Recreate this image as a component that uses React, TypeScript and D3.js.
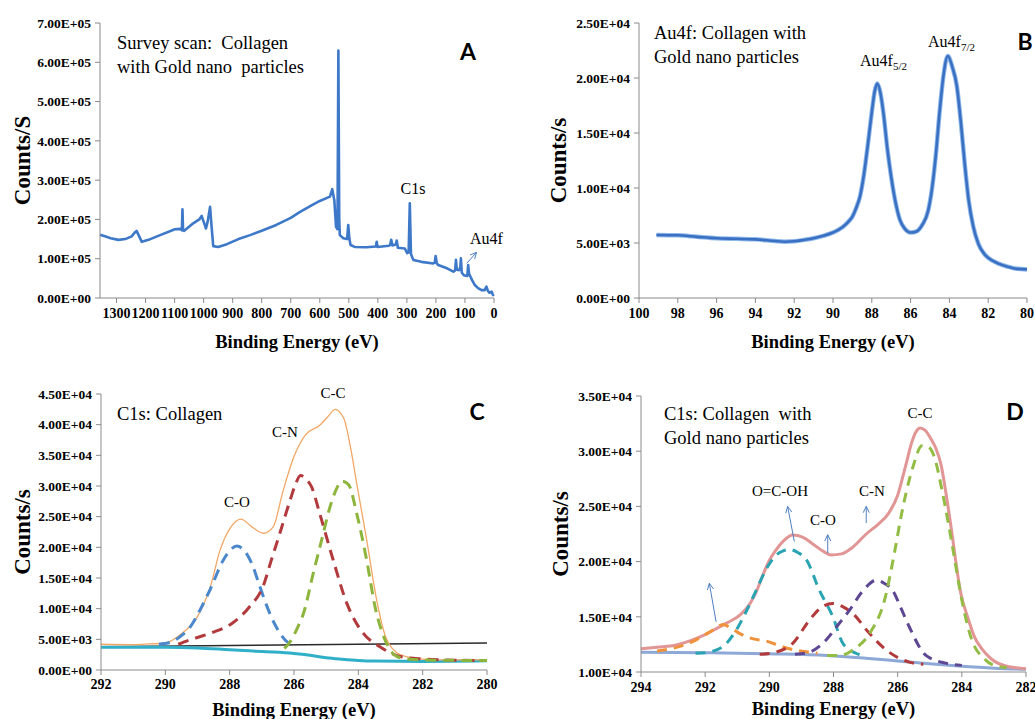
import React from "react";
import * as d3 from "d3";

type Pt = [number, number];

// ---------- A: survey scan ----------
const surveyTicksX = [1300, 1200, 1100, 1000, 900, 800, 700, 600, 500, 400, 300, 200, 100, 0];
const surveyTicksY = [0, 100000, 200000, 300000, 400000, 500000, 600000, 700000];
const surveyScan: Pt[] = [
  [1357, 161000], [1340, 157000], [1320, 152000], [1294, 148000], [1270, 150000], [1248, 157000],
  [1238, 166000], [1231, 171000], [1224, 160000], [1213, 143000], [1190, 148000], [1150, 160000],
  [1099, 175000], [1080, 176000], [1075, 172000], [1073, 226000], [1071, 173000], [1067, 171000],
  [1040, 188000], [1015, 200000], [1007, 209000], [998, 190000], [992, 177000], [986, 195000],
  [978, 232000], [973, 185000], [967, 132000], [950, 130000], [920, 137000], [880, 150000],
  [840, 160000], [800, 171000], [750, 186000], [700, 204000], [668, 219000], [630, 235000],
  [600, 247000], [565, 258000], [557, 277000], [550, 249000], [544, 181000], [539, 175000],
  [536, 630000], [533, 200000], [531, 160000], [519, 152000], [506, 150000], [502, 186000],
  [498, 150000], [494, 135000], [480, 130000], [439, 129000], [407, 131000], [404, 143000],
  [401, 130000], [362, 133000], [358, 135000], [354, 148000], [350, 134000], [338, 136000],
  [335, 146000], [331, 128000], [307, 126000], [299, 114000], [294, 116000], [290, 241000],
  [286, 112000], [278, 97000], [250, 92000], [209, 88000], [204, 90000], [201, 107000],
  [197, 88000], [192, 84000], [160, 75000], [140, 67000], [134, 70000], [131, 97000],
  [128, 72000], [120, 71000], [116, 78000], [114, 101000], [111, 65000], [104, 58000],
  [92, 56000], [89, 84000], [86, 62000], [81, 54000], [75, 45000], [66, 33000], [55, 25000],
  [43, 20000], [32, 20000], [26, 29000], [21, 18000], [16, 13500], [8, 16000], [5, 10000],
  [3, 7600], [0, 9000],
];
const surveyArrow = [94, 88300, 60, 116300];

// ---------- B: Au4f ----------
const au4fTicksX = [100, 98, 96, 94, 92, 90, 88, 86, 84, 82, 80];
const au4fTicksY = [0, 5000, 10000, 15000, 20000, 25000];
const au4fScan: Pt[] = [
  [99.1, 5730], [98, 5700], [97, 5560], [96, 5430], [95, 5380], [94, 5330], [93, 5180],
  [92.5, 5120], [92, 5160], [91.5, 5280], [91, 5430], [90.5, 5650], [90, 5950], [89.5, 6450],
  [89.2, 6950], [89, 7400], [88.8, 8200], [88.6, 9300], [88.4, 11300], [88.2, 14000],
  [88, 16900], [87.85, 18800], [87.72, 19500], [87.55, 18600], [87.4, 16800], [87.2, 13600],
  [87, 11000], [86.8, 8900], [86.55, 7100], [86.3, 6300], [86, 5950], [85.7, 6050],
  [85.4, 6650], [85.1, 7900], [84.9, 9900], [84.7, 13000], [84.5, 17000], [84.3, 20300],
  [84.08, 22000], [83.85, 21000], [83.62, 19300], [83.4, 15800], [83.2, 12000], [83, 8800],
  [82.77, 6500], [82.5, 4900], [82.2, 4000], [82, 3650], [81.5, 3150], [81, 2850],
  [80.5, 2650], [80, 2600],
];

// ---------- C: C1s collagen ----------
const c1sTicksX = [292, 290, 288, 286, 284, 282, 280];
const c1sTicksY = [0, 5000, 10000, 15000, 20000, 25000, 30000, 35000, 40000, 45000];
const c1sEnvelope: Pt[] = [
  [292, 4200], [291, 4150], [290.5, 4250], [290, 4400], [289.5, 5900], [289, 8700],
  [288.6, 13600], [288.3, 19500], [288, 23000], [287.65, 24600], [287.3, 23300],
  [286.95, 22300], [286.65, 23300], [286.35, 29000], [286.0, 34800], [285.65, 38300],
  [285.2, 39900], [284.95, 41300], [284.72, 42500], [284.45, 41000], [284.25, 36500],
  [284.05, 30400], [283.74, 21200], [283.43, 11400], [283.12, 5000], [282.7, 2500],
  [282.2, 1900], [281.5, 1650], [280, 1650],
];
const c1sCO: Pt[] = [
  [290.2, 4200], [289.85, 4500], [289.5, 5600], [289.23, 7000], [288.9, 10000], [288.6, 13200],
  [288.2, 17900], [287.95, 19700], [287.78, 20200], [287.55, 19500], [287.3, 17200],
  [287.1, 14200], [286.85, 10500], [286.6, 7500], [286.4, 5700], [286.15, 4300], [286.0, 3900],
];
const c1sCN: Pt[] = [
  [289.6, 4200], [289.25, 4900], [288.6, 6000], [287.9, 7700], [287.4, 10200], [286.95, 13800],
  [286.7, 18000], [286.44, 22300], [286.12, 27700], [285.95, 30300], [285.8, 31700],
  [285.6, 31000], [285.45, 29800], [285.2, 25500], [284.78, 17900], [284.36, 10900],
  [283.85, 6000], [283.33, 3800], [282.7, 2200], [282, 1800], [281, 1600], [280, 1550],
];
const c1sCC: Pt[] = [
  [286.3, 3500], [286.12, 4600], [285.9, 6800], [285.7, 9300], [285.4, 15800], [285.14, 21200],
  [284.88, 26600], [284.7, 29300], [284.5, 30800], [284.3, 30200], [284.05, 25500],
  [283.74, 17900], [283.48, 10300], [283.17, 4900], [282.8, 2200], [282.3, 1700],
  [281.5, 1600], [280, 1550],
];
const c1sLinear: Pt[] = [[292, 3800], [280, 4400]];
const c1sShirley: Pt[] = [
  [292, 3700], [290, 3700], [289, 3600], [288, 3300], [287, 3000], [286, 2700], [285.5, 2400],
  [285, 2000], [284.5, 1750], [284, 1550], [283.5, 1450], [282, 1400], [280, 1500],
];

// ---------- D: C1s collagen + Au ----------
const c1sAuTicksX = [294, 292, 290, 288, 286, 284, 282];
const c1sAuTicksY = [10000, 15000, 20000, 25000, 30000, 35000];
const c1sAuEnvelope: Pt[] = [
  [294, 12100], [293.5, 12250], [292.9, 12450], [292.5, 12800], [292.07, 13300], [291.7, 13850],
  [291.35, 14400], [290.9, 15200], [290.6, 16200], [290.4, 17300], [290.2, 18800], [290.0, 20100],
  [289.78, 21100], [289.55, 21900], [289.27, 22400], [288.95, 22200], [288.6, 21500],
  [288.3, 20900], [288.07, 20600], [287.75, 20700], [287.4, 21300], [286.98, 22500],
  [286.6, 23400], [286.3, 24300], [286.0, 26000], [285.75, 28700], [285.55, 30900],
  [285.42, 31800], [285.3, 32100], [285.15, 31900], [284.96, 31100], [284.8, 30200],
  [284.65, 28800], [284.5, 26300], [284.34, 23200], [284.03, 17100], [283.8, 14800],
  [283.61, 13200], [283.35, 12000], [283.09, 11200], [282.57, 10500], [282, 10300],
];
const c1sAuBackground: Pt[] = [
  [294, 11800], [292, 11750], [290, 11650], [288.2, 11500], [287, 11250], [286, 11000],
  [285, 10750], [284.1, 10550], [283, 10350], [282, 10250],
];
const c1sAuSat: Pt[] = [
  [293.5, 11900], [293, 12150], [292.5, 12600], [292.1, 13200], [291.7, 13900], [291.45, 14300],
  [291.2, 14000], [290.93, 13500], [290.5, 13000], [290.1, 12800], [289.7, 12400],
  [289.38, 12100], [288.9, 11850], [288.5, 11700],
];
const c1sAuCOOH: Pt[] = [
  [292.3, 11700], [292, 11750], [291.45, 12300], [291.03, 13800], [290.7, 15600], [290.41, 17400],
  [290.1, 19300], [289.85, 20400], [289.55, 21000], [289.38, 21100], [289.1, 20800],
  [288.85, 20200], [288.44, 17400], [288.02, 15000], [287.71, 12600], [287.3, 11700], [287.0, 11400],
];
const c1sAuCO: Pt[] = [
  [290.3, 11600], [289.79, 11800], [289.27, 12600], [288.75, 14700], [288.4, 15800],
  [288.02, 16200], [287.7, 15900], [287.4, 15300], [286.88, 13500], [286.36, 12000],
  [285.64, 10900], [285.2, 10700],
];
const c1sAuCN: Pt[] = [
  [289.2, 11600], [288.75, 11800], [288.23, 12900], [287.85, 14300], [287.5, 15600],
  [287.1, 17300], [286.67, 18300], [286.4, 18000], [286.16, 17400], [285.9, 15800],
  [285.64, 14100], [285.12, 11500], [284.5, 10800], [284.0, 10600],
];
const c1sAuCC: Pt[] = [
  [288.2, 11500], [287.8, 11500], [287.4, 12000], [286.85, 13600], [286.41, 16500],
  [286.1, 20800], [285.9, 24000], [285.74, 26200], [285.5, 28800], [285.25, 30500],
  [285.05, 30400], [284.86, 29500], [284.6, 26200], [284.3, 21500], [284.0, 16500],
  [283.7, 13000], [283.3, 11200], [283.0, 10600], [282.6, 10400],
];
const c1sAuArrows = [
  [291.66, 14550, 291.87, 18040],
  [289.22, 21820, 289.43, 25000],
  [288.18, 20760, 288.18, 22430],
  [286.98, 23490, 286.98, 25000],
];

const SERIF = "'Liberation Serif', 'Times New Roman', serif";
const SANS = "Lato, 'Open Sans', sans-serif";
const AXIS = "#8a8a8a";

const sci = (v: number) => {
  if (v === 0) return "0.00E+00";
  const e = Math.floor(Math.log10(v) + 1e-9);
  return (v / Math.pow(10, e)).toFixed(2) + "E+" + String(e).padStart(2, "0");
};

type Scale = d3.ScaleLinear<number, number>;

function Panel(props: {
  left: number; right: number; top: number; bottom: number;
  xDomain: [number, number]; yDomain: [number, number];
  xTicks: number[]; yTicks: number[];
  xLabelY: number; xTitleY: number; yTitleX: number; yTitle: string;
  children: (x: Scale, y: Scale) => React.ReactNode;
}) {
  const x = d3.scaleLinear().domain(props.xDomain).range([props.left, props.right]);
  const y = d3.scaleLinear().domain(props.yDomain).range([props.bottom, props.top]);
  const midX = (props.left + props.right) / 2;
  const midY = (props.top + props.bottom) / 2;
  return (
    <g>
      {props.children(x, y)}
      <line x1={props.left} x2={props.left} y1={props.top} y2={props.bottom} stroke={AXIS} />
      <line x1={props.left} x2={props.right} y1={props.bottom} y2={props.bottom} stroke={AXIS} />
      {props.yTicks.map((t) => (
        <g key={"y" + t}>
          <line x1={props.left - 5} x2={props.left} y1={y(t)} y2={y(t)} stroke={AXIS} />
          <text x={props.left - 9} y={y(t)} dy="0.35em" textAnchor="end" fontSize={13.5}
            fontWeight="bold" fontFamily={SERIF}>{sci(t)}</text>
        </g>
      ))}
      {props.xTicks.map((t) => (
        <g key={"x" + t}>
          <line x1={x(t)} x2={x(t)} y1={props.bottom} y2={props.bottom + 5} stroke={AXIS} />
          <text x={x(t)} y={props.xLabelY} textAnchor="middle" fontSize={14}
            fontWeight="bold" fontFamily={SERIF}>{t}</text>
        </g>
      ))}
      <text x={midX} y={props.xTitleY} textAnchor="middle" fontSize={18.5} fontWeight="bold"
        fontFamily={SERIF}>Binding Energy (eV)</text>
      <text transform={`translate(${props.yTitleX},${midY}) rotate(-90)`} dy="0.35em"
        textAnchor="middle" fontSize={23} fontWeight="bold" fontFamily={SERIF}>{props.yTitle}</text>
    </g>
  );
}

function curve(x: Scale, y: Scale, pts: Pt[], smooth = true) {
  const gen = d3.line<Pt>().x((d) => x(d[0])).y((d) => y(d[1]));
  if (smooth) gen.curve(d3.curveMonotoneX);
  return gen(pts) || "";
}

function Arrow({ x1, y1, x2, y2 }: { x1: number; y1: number; x2: number; y2: number }) {
  const ang = Math.atan2(y2 - y1, x2 - x1);
  const L = 7, a = 0.45;
  const p1 = [x2 - L * Math.cos(ang - a), y2 - L * Math.sin(ang - a)];
  const p2 = [x2 - L * Math.cos(ang + a), y2 - L * Math.sin(ang + a)];
  return (
    <g stroke="#4f80c2" strokeWidth={1} fill="none">
      <line x1={x1} y1={y1} x2={x2} y2={y2} />
      <polyline points={`${p1[0]},${p1[1]} ${x2},${y2} ${p2[0]},${p2[1]}`} />
    </g>
  );
}

const label = (x: number, y: number, s: string, size = 15, anchor = "middle") => (
  <text x={x} y={y} fontSize={size} fontFamily={SERIF} textAnchor={anchor} fill="#000"
    style={{ whiteSpace: "pre" }}>{s}</text>
);
const letter = (x: number, y: number, s: string) => (
  <text x={x} y={y} fontSize={23} fontWeight="bold" fontFamily={SANS} textAnchor="middle" fill="#000">{s}</text>
);

export default function App() {
  return (
    <svg width={1035} height={719} style={{ position: "absolute", left: 0, top: 0, background: "#fff" }}>
      <Panel left={100} right={494} top={23} bottom={298} xDomain={[1357, 0]} yDomain={[0, 700000]}
        xTicks={surveyTicksX} yTicks={surveyTicksY} xLabelY={318} xTitleY={348} yTitleX={22} yTitle="Counts/S">
        {(x, y) => (
          <g>
            <path d={curve(x, y, surveyScan, false)} fill="none" stroke="#3d78c9" strokeWidth={2.6}
              strokeLinejoin="round" />
            <Arrow x1={x(surveyArrow[0])} y1={y(surveyArrow[1])} x2={x(surveyArrow[2])} y2={y(surveyArrow[3])} />
            {label(117, 49, "Survey scan:  Collagen", 18.5, "start")}
            {label(117, 73, "with Gold nano  particles", 18.5, "start")}
            {label(413, 194, "C1s", 16)}
            {label(470, 244, "Au4f", 16, "start")}
            {letter(468, 60, "A")}
          </g>
        )}
      </Panel>

      <Panel left={639} right={1027} top={23} bottom={298} xDomain={[100, 80]} yDomain={[0, 25000]}
        xTicks={au4fTicksX} yTicks={au4fTicksY} xLabelY={318} xTitleY={348} yTitleX={558} yTitle="Counts/s">
        {(x, y) => (
          <g>
            <path d={curve(x, y, au4fScan)} fill="none" stroke="#8fb8ea" strokeWidth={4.5} />
            <path d={curve(x, y, au4fScan)} fill="none" stroke="#3a70c2" strokeWidth={2.6} />
            {label(654, 39, "Au4f: Collagen with", 18.5, "start")}
            {label(654, 63, "Gold nano particles", 18.5, "start")}
            <text x={860} y={66} fontSize={16} fontFamily={SERIF}>Au4f<tspan fontSize={11} dy={4}>5/2</tspan></text>
            <text x={928} y={47} fontSize={16} fontFamily={SERIF}>Au4f<tspan fontSize={11} dy={4}>7/2</tspan></text>
            {letter(1025, 50, "B")}
          </g>
        )}
      </Panel>

      <Panel left={101} right={487} top={394} bottom={670} xDomain={[292, 280]} yDomain={[0, 45000]}
        xTicks={c1sTicksX} yTicks={c1sTicksY} xLabelY={689} xTitleY={716} yTitleX={22} yTitle="Counts/s">
        {(x, y) => (
          <g fill="none">
            <path d={curve(x, y, c1sLinear, false)} stroke="#2a2a2a" strokeWidth={1.6} />
            <path d={curve(x, y, c1sShirley)} stroke="#2fb0c8" strokeWidth={3} />
            <path d={curve(x, y, c1sEnvelope)} stroke="#f2a765" strokeWidth={1.3} />
            <path d={curve(x, y, c1sCO)} stroke="#4a87cc" strokeWidth={3} strokeDasharray="11 7" />
            <path d={curve(x, y, c1sCN)} stroke="#b23a3c" strokeWidth={3} strokeDasharray="11 7" />
            <path d={curve(x, y, c1sCC)} stroke="#8db53c" strokeWidth={3} strokeDasharray="11 7" />
            {label(117, 420, "C1s: Collagen", 18.5, "start")}
            {label(333, 398, "C-C")}
            {label(285, 437, "C-N")}
            {label(237, 507, "C-O")}
            {letter(477, 420, "C")}
          </g>
        )}
      </Panel>

      <Panel left={641} right={1026} top={396} bottom={672} xDomain={[294, 282]} yDomain={[10000, 35000]}
        xTicks={c1sAuTicksX} yTicks={c1sAuTicksY} xLabelY={692} xTitleY={715} yTitleX={560} yTitle="Counts/s">
        {(x, y) => (
          <g fill="none">
            <path d={curve(x, y, c1sAuBackground)} stroke="#8ea8d8" strokeWidth={3} />
            <path d={curve(x, y, c1sAuEnvelope)} stroke="#e29595" strokeWidth={3} />
            <path d={curve(x, y, c1sAuSat)} stroke="#f0923c" strokeWidth={3} strokeDasharray="10 7" />
            <path d={curve(x, y, c1sAuCOOH)} stroke="#2aa3b3" strokeWidth={3} strokeDasharray="10 7" />
            <path d={curve(x, y, c1sAuCO)} stroke="#b33a3a" strokeWidth={3} strokeDasharray="10 7" />
            <path d={curve(x, y, c1sAuCN)} stroke="#5e4792" strokeWidth={3} strokeDasharray="10 7" />
            <path d={curve(x, y, c1sAuCC)} stroke="#93bc45" strokeWidth={3} strokeDasharray="10 7" />
            {c1sAuArrows.map((a, i) => (
              <Arrow key={i} x1={x(a[0])} y1={y(a[1])} x2={x(a[2])} y2={y(a[3])} />
            ))}
            {label(664, 420, "C1s: Collagen  with", 18.5, "start")}
            {label(664, 444, "Gold nano particles", 18.5, "start")}
            {label(920, 418, "C-C")}
            {label(780, 496, "O=C-OH")}
            {label(823, 525, "C-O")}
            {label(872, 496, "C-N")}
            {letter(1015, 420, "D")}
          </g>
        )}
      </Panel>
    </svg>
  );
}
